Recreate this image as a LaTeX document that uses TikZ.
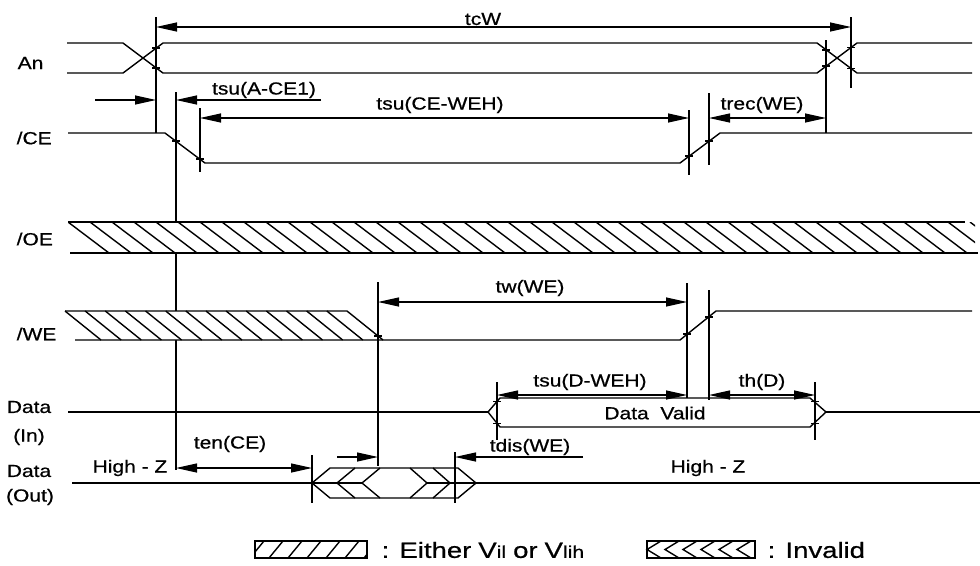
\documentclass[tikz,border=0pt]{standalone}
\usepackage{fontspec}
\setmainfont{Liberation Sans}[FakeStretch=1.2, FakeBold=0.7]
\newfontfamily\legendfont{Liberation Sans}[FakeStretch=1.25, FakeBold=0.7]
\usetikzlibrary{arrows.meta}

\begin{document}
\begin{tikzpicture}[x=1pt, y=-1pt, line width=1.4pt,
    lbl/.style={font=\fontsize{17.5}{19}\selectfont, inner sep=0pt},
    leg/.style={font=\legendfont\fontsize{22}{24}\selectfont, inner sep=0pt, anchor=west},
    guide/.style={line width=1.2pt},
    dim/.style={line width=1.2pt, {Triangle[length=21pt,width=9pt]}-{Triangle[length=21pt,width=9pt]}},
    onetip/.style={line width=1.2pt, -{Triangle[length=21pt,width=9pt]}}]
    \useasboundingbox (0,0) rectangle (980,565);

    % signal names
    \node[lbl, anchor=west] (an) at (17,63) {An};
    \node[lbl, anchor=west] (ce) at (16,138) {/CE};
    \node[lbl, anchor=west] (oe) at (16,239) {/OE};
    \node[lbl, anchor=west] (we) at (16,334) {/WE};
    \node[lbl] (din1) at (29,407) {Data}; \node[lbl] (din2) at (29,437) {(In)};
    \node[lbl] (dout1) at (29,471) {Data}; \node[lbl] (dout2) at (30,497) {(Out)};

    % reference lines
    \foreach \x/\ya/\yb in {156/17/133, 851/17/88, 826/40/133, 176/92/470, 200/108/172, 689/110/175, 709/93/165}
        \draw[guide] (\x,\ya) -- (\x,\yb);

    % An
    \draw (67,43) -- (123,43) -- (163,73) -- (817,73) -- (857,43) -- (972,43);
    \draw (67,73) -- (123,73) -- (163,43) -- (817,43) -- (857,73) -- (972,73);
    % /CE
    \draw (68,133) -- (165,133) -- (205,163) -- (680,163) -- (720,133) -- (972,133);

    % /OE (either)
    \fill[white] (68,222) rectangle (975,253);
    \begin{scope}
        \clip (68,222) rectangle (975,253);
        \foreach \x in {68,90,...,980} \draw (\x,222) -- ++(41,31);
    \end{scope}
    \draw (68,222) -- (965,222); \draw (70,253) -- (978,253);

    % /WE
    \fill[white] (65,311) -- (347,311) -- (383,340) -- (101,340) -- cycle;
    \foreach \i in {0,...,13} \draw (65+\i*20.14,311) -- ++(36,29);
    \draw (65,311) -- (347,311) -- (383,340);
    \draw (75,340) -- (680,340) -- (716,311) -- (972,311);

    % more reference lines
    \foreach \x/\ya/\yb in {378/282/466, 687/283/398, 709/290/400, 497/382/440, 815/382/440, 312/455/503, 455/452/503}
        \draw[guide] (\x,\ya) -- (\x,\yb);

    % Data (In)
    \draw (68,412) -- (488,412);
    \draw (488,412) -- (500,398) -- (810,398) -- (826,412) -- (810,427) -- (500,427) -- cycle;
    \draw (826,412) -- (980,412);
    \node[lbl] (valid) at (655,413) {Data\ \ Valid};

    % Data (Out)
    \draw (72,483) -- (312,483);
    \draw (312,483) -- (330,468) -- (458,468) -- (476,483) -- (458,498) -- (330,498) -- cycle;
    \draw (355,468) -- (337,483) -- (355,498); \draw (380,468) -- (362,483) -- (380,498);
    \draw (410,468) -- (427,483) -- (410,498); \draw (433,468) -- (450,483) -- (433,498);
    \draw (312,483) -- (362,483); \draw (427,483) -- (476,483);
    \draw (476,483) -- (980,483);

    % crossing ticks
    \foreach \x/\y in {156/48, 156/68, 826/50, 826/66, 851/47.5, 851/68.5, 176/141, 200/159, 689/156, 709/141,
        378/336, 687/334, 709/317, 497/401.5, 497/423.5, 815/401.5, 815/423.5}
        \draw[guide] (\x-4,\y) -- (\x+4,\y);

    % timing arrows
    \draw[dim] (156,27) -- (851,27);
    \draw[onetip] (95,100) -- (156,100);
    \draw[onetip] (321,100) -- (176,100);
    \draw[dim] (200,118) -- (689,118);
    \draw[dim] (709,118) -- (826,118);
    \draw[dim] (378,302) -- (687,302);
    \draw[dim] (497,395) -- (687,395);
    \draw[dim] (709,395) -- (815,395);
    \draw[dim] (176,468) -- (312,468);
    \draw[onetip] (337,457) -- (378,457);
    \draw[onetip] (583,457) -- (455,457);

    % timing names
    \node[lbl] (tcw) at (483,19) {tcW};
    \node[lbl] (tsuace) at (264,90) {tsu(A-CE1)};
    \node[lbl] (tsucewe) at (440,105) {tsu(CE-WEH)};
    \node[lbl] (trec) at (762,105) {trec(WE)};
    \node[lbl] (tw) at (530,288) {tw(WE)};
    \node[lbl] (tsudwe) at (590,382) {tsu(D-WEH)};
    \node[lbl] (thd) at (762,382) {th(D)};
    \node[lbl] (ten) at (230,444) {ten(CE)};
    \node[lbl] (tdis) at (530,447) {tdis(WE)};
    \node[lbl] (hz1) at (130,468) {High - Z};
    \node[lbl] (hz2) at (708,468) {High - Z};

    % legend
    \draw[fill=white] (255,541) rectangle (367,558);
    \begin{scope}
        \clip (255,541) rectangle (367,558);
        \foreach \x in {250,269,...,370} \draw (\x,558) -- ++(14,-17);
    \end{scope}
    \draw (255,541) rectangle (367,558);
    \node[leg] (either) at (381,550) {: Either\hspace{7pt}V{\fontsize{17}{17}\selectfont il}\hspace{7pt}or\hspace{7pt}V{\fontsize{17}{17}\selectfont lih}};
    \draw (647,541) rectangle (755,558);
    \foreach \x in {647,665,...,737} \draw (\x+14,541) -- (\x,549.5) -- (\x+14,558);
    \node[leg] (invalid) at (767,550) {: Invalid};
\end{tikzpicture}
\end{document}
